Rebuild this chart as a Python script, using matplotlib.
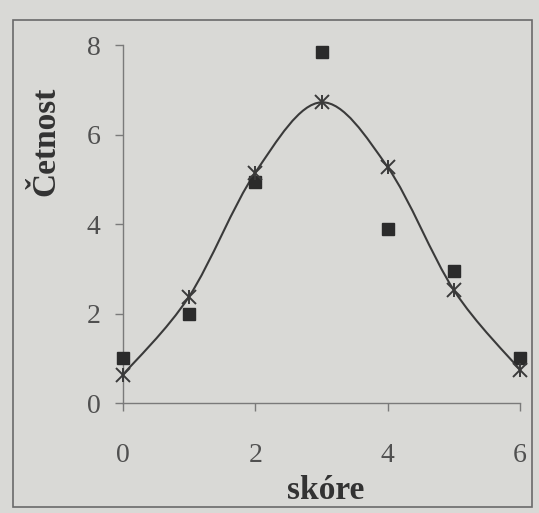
import matplotlib.pyplot as plt
from matplotlib.path import Path
from matplotlib.patches import PathPatch, Rectangle

# score values and frequencies
skore = [0, 1, 2, 3, 4, 5, 6]
observed = [1.0, 2.0, 4.95, 7.85, 3.9, 2.95, 1.0]
expected = [0.63, 2.38, 5.15, 6.72, 5.27, 2.52, 0.74]

bg = '#d9d9d6'
plt.rcParams['font.family'] = ['Liberation Serif', 'DejaVu Serif']

fig = plt.figure(figsize=(5.39, 5.13), dpi=100, facecolor=bg)
ax = fig.add_axes([0.228, 0.2144, 0.737, 0.6978])
ax.set_facecolor(bg)

# frame around the whole chart
fig.patches.append(Rectangle((13 / 539, 6 / 513), 519 / 539, 487 / 513,
                             transform=fig.transFigure, fill=False,
                             edgecolor='#6a6a6a', linewidth=1.2))


def smooth_path(xs, ys):
    # smoothed line like a spreadsheet "smooth line" (cubic bezier through points)
    pts = list(zip(xs, ys))
    n = len(pts)
    verts = [pts[0]]
    codes = [Path.MOVETO]
    for i in range(n - 1):
        p_prev = pts[i - 1] if i > 0 else pts[i]
        p0 = pts[i]
        p1 = pts[i + 1]
        p_next = pts[i + 2] if i + 2 < n else pts[i + 1]
        c1 = (p0[0] + (p1[0] - p_prev[0]) / 6, p0[1] + (p1[1] - p_prev[1]) / 6)
        c2 = (p1[0] - (p_next[0] - p0[0]) / 6, p1[1] - (p_next[1] - p0[1]) / 6)
        verts += [c1, c2, p1]
        codes += [Path.CURVE4] * 3
    return Path(verts, codes)


ax.add_patch(PathPatch(smooth_path(skore, expected), fill=False,
                       edgecolor='#3a3a3a', linewidth=1.5, clip_on=False))

ax.plot(skore, observed, linestyle='none', marker='s', markersize=9,
        color='#2b2b2b', clip_on=False, zorder=3)
ax.plot(skore, expected, linestyle='none', marker='x', markersize=10,
        markeredgewidth=1.4, color='#3a3a3a', clip_on=False, zorder=4)
ax.plot(skore, expected, linestyle='none', marker='|', markersize=10,
        markeredgewidth=1.4, color='#3a3a3a', clip_on=False, zorder=4)

ax.set_xlim(0, 6)
ax.set_ylim(0, 8)
ax.set_xticks([0, 2, 4, 6])
ax.set_yticks([0, 2, 4, 6, 8])

for side in ['top', 'right']:
    ax.spines[side].set_visible(False)
for side in ['left', 'bottom']:
    ax.spines[side].set_color('#7a7a7a')
    ax.spines[side].set_linewidth(1.0)

ax.tick_params(axis='both', direction='out', length=6, width=1.0,
               color='#7a7a7a', labelsize=20, labelcolor='#505050')
ax.tick_params(axis='x', pad=23)
ax.tick_params(axis='y', pad=10)

ax.set_xlabel('skóre', fontsize=24, fontweight='bold', color='#333333')
ax.set_ylabel('Četnost', fontsize=24, fontweight='bold', color='#333333')
ax.xaxis.set_label_coords(0.51, -0.2)
ax.yaxis.set_label_coords(-0.155, 0.73)

fig.savefig('out.png', dpi=100, facecolor=bg)
